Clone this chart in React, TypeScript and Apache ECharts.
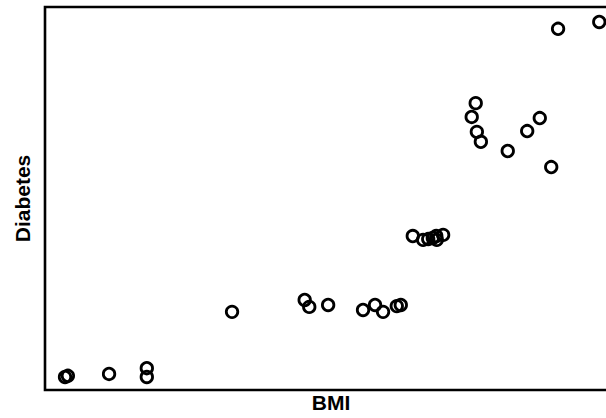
import React, { useEffect, useRef } from "react";
import * as echarts from "echarts";

const bmi: number[] = [
  3.5, 4.0, 11.2, 17.8, 17.8, 32.7, 45.4, 46.2, 49.5, 55.6, 57.7, 59.1, 61.5, 62.2,
  64.3, 66.1, 67.0, 67.8, 68.4, 68.5, 69.6, 75.3, 74.6, 75.5, 76.2, 80.9, 84.3, 86.5,
  88.5, 89.7, 96.9,
];
const diabetes: number[] = [
  3.4, 3.7, 4.2, 5.7, 3.4, 20.4, 23.5, 21.7, 22.2, 20.9, 22.2, 20.4, 21.9, 22.2,
  40.2, 39.2, 39.4, 39.7, 40.2, 39.2, 40.5, 74.9, 71.3, 67.4, 64.8, 62.4, 67.6, 71.0,
  58.2, 94.3, 96.1,
];

const xName = "BMI";
const yName = "Diabetes";

export default function App() {
  const ref = useRef<HTMLDivElement>(null);
  useEffect(() => {
    if (!ref.current) return;
    const chart = echarts.init(ref.current, null, { renderer: "svg" });
    const points = bmi.map((x, i) => [x, diabetes[i]]);
    chart.setOption({
      animation: false,
      backgroundColor: "#fff",
      grid: {
        left: 45,
        width: 572,
        top: 7,
        bottom: 28,
        show: true,
        borderColor: "#000",
        borderWidth: 2.6,
        backgroundColor: "transparent",
        outerBoundsMode: "none",
        containLabel: false,
      },
      xAxis: {
        type: "value",
        min: 0,
        max: 100,
        name: xName,
        nameLocation: "middle",
        nameGap: 2,
        nameTextStyle: {
          fontFamily: "Liberation Sans, Arial, sans-serif",
          fontWeight: "bold",
          fontSize: 21,
          color: "#000",
          verticalAlign: "top",
        },
        axisLine: { show: false },
        axisTick: { show: false },
        axisLabel: { show: false },
        splitLine: { show: false },
      },
      yAxis: {
        type: "value",
        min: 0,
        max: 100,
        name: yName,
        nameLocation: "middle",
        nameGap: 12,
        nameRotate: 90,
        nameTextStyle: {
          fontFamily: "Liberation Sans, Arial, sans-serif",
          fontWeight: "bold",
          fontSize: 21,
          color: "#000",
        },
        axisLine: { show: false },
        axisTick: { show: false },
        axisLabel: { show: false },
        splitLine: { show: false },
      },
      series: [
        {
          type: "scatter",
          data: points,
          symbol: "circle",
          symbolSize: 11.5,
          itemStyle: {
            color: "rgba(0,0,0,0)",
            borderColor: "#000",
            borderWidth: 2.8,
            opacity: 1,
          },
          emphasis: { disabled: true },
        },
      ],
    });
    return () => chart.dispose();
  }, []);
  return (
    <div
      ref={ref}
      style={{ position: "absolute", left: 0, top: 0, width: 606, height: 418 }}
    />
  );
}
